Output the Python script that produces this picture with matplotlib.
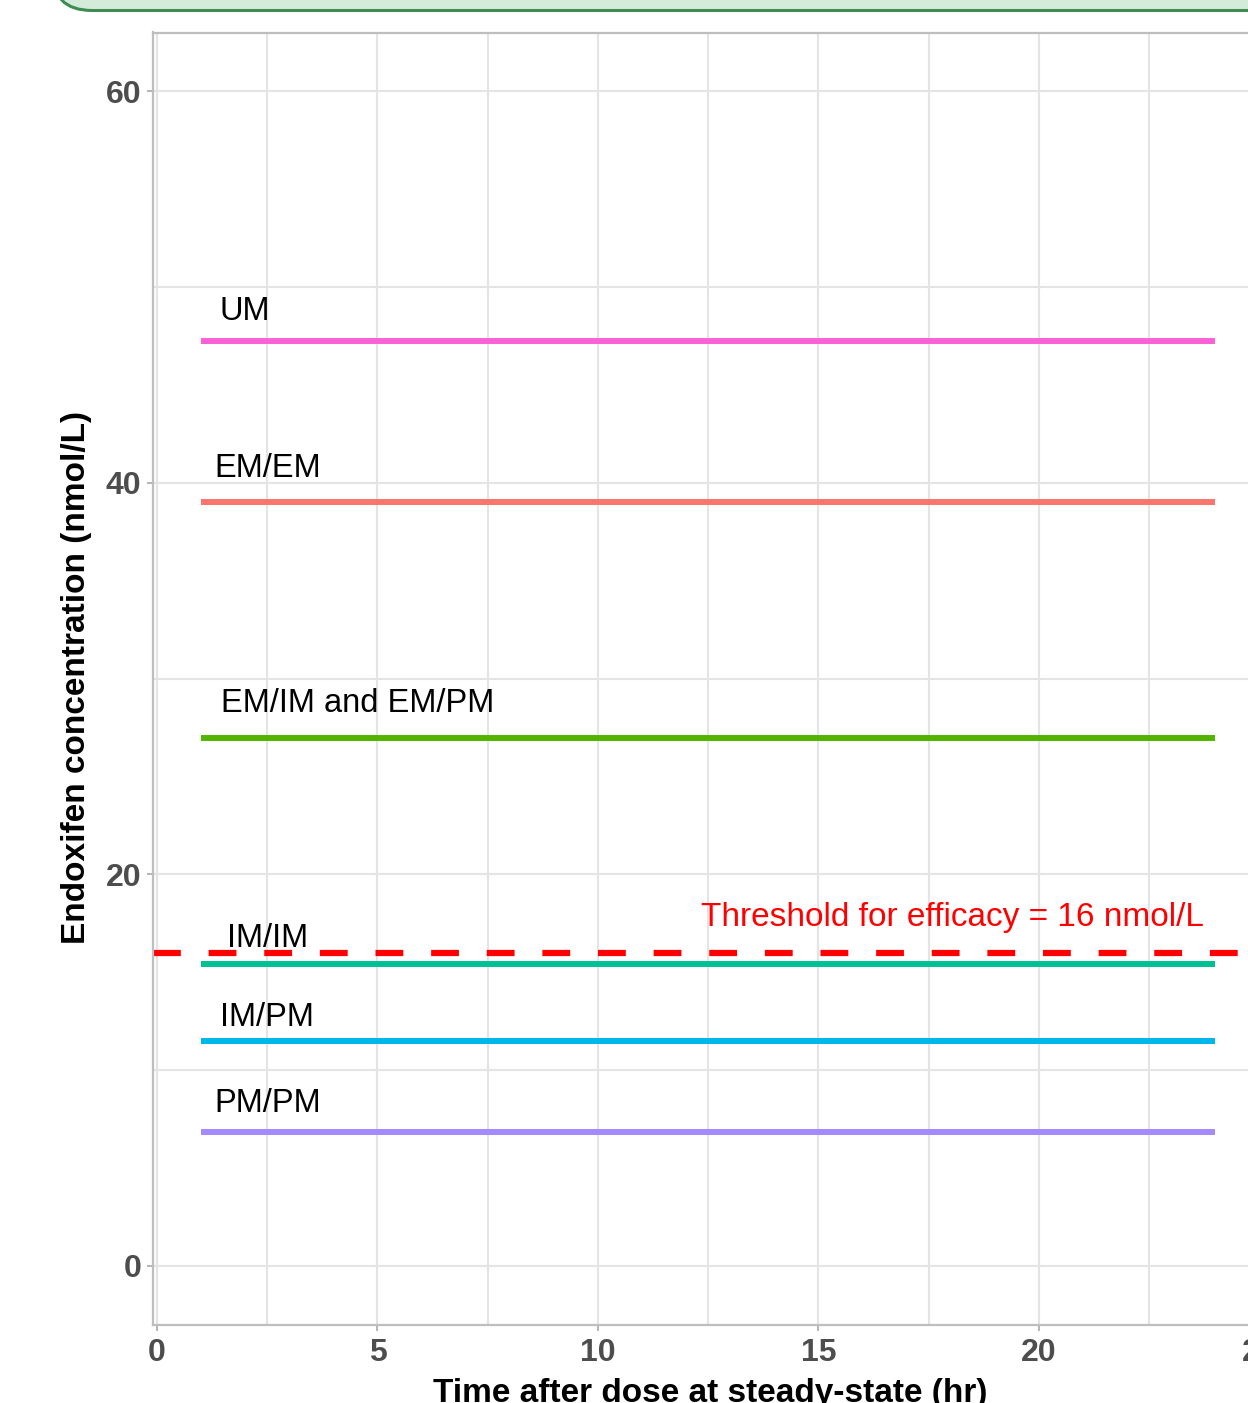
import matplotlib

matplotlib.use("Agg")
import matplotlib.pyplot as plt
from matplotlib.patches import FancyBboxPatch

plt.rcParams["font.family"] = ["Liberation Sans", "DejaVu Sans"]

# ---- datos ----------------------------------------------------------------
genotypes = ["UM", "EM/EM", "EM/IM and EM/PM", "IM/IM", "IM/PM", "PM/PM"]
conc = [47.24, 39.02, 26.97, 15.41, 11.49, 6.83]      # nmol/L
hours = [1, 24]                                        # tramo dibujado
threshold = 16
threshold_label = "Threshold for efficacy = 16 nmol/L"

COLORS = ["#FB61D7", "#F8766D", "#53B400", "#00C094", "#00B6EB", "#A58AFF"]
LABEL_X = [2.0, 2.5, 4.55, 2.5, 2.5, 2.5]
LABEL_Y = [48.3, 40.3, 28.3, 16.3, 12.26, 7.88]        # línea base del texto
GRID = "#E4E4E4"
FRAME = "#BEBEBE"
TICK_TXT = "#4D4D4D"

W, H = 1248, 1403
fig = plt.figure(figsize=(W / 100, H / 100), dpi=100)
fig.patch.set_facecolor("white")

# caja verde recortada arriba
fig.add_artist(FancyBboxPatch(
    (0.52, 13.925), 14.0, 2.0,
    boxstyle="round,pad=0,rounding_size=0.4",
    facecolor="#D5EBDA", edgecolor="#3F8C52", linewidth=2.2,
    transform=fig.dpi_scale_trans, zorder=0))

ax = fig.add_axes([153 / W, (H - 1324.7) / H, 1115.3 / W, 1292.2 / H])
ax.set_xlim(-0.09, 25.2)
ax.set_ylim(-3, 63)

ax.set_xticks([0, 5, 10, 15, 20, 25])
ax.set_xticks([2.5, 7.5, 12.5, 17.5, 22.5], minor=True)
ax.set_yticks([0, 20, 40, 60])
ax.set_yticks([10, 30, 50], minor=True)
ax.grid(True, which="both", color=GRID, linewidth=1.5, zorder=0)
ax.set_axisbelow(True)

for sp in ax.spines.values():
    sp.set_color(FRAME)
    sp.set_linewidth(1.6)

ax.tick_params(which="major", length=4, width=1.3, color="#B0B0B0",
               labelsize=23, labelcolor=TICK_TXT)
ax.tick_params(axis="x", which="major", pad=5.5)
ax.tick_params(axis="y", which="major", pad=4.5)
ax.tick_params(which="minor", length=0)
for lab in ax.get_xticklabels() + ax.get_yticklabels():
    lab.set_fontweight("bold")

# umbral
thr = ax.axhline(threshold, color="#FF0000", linewidth=4.5, zorder=2)
thr.set_dashes((4.45, 4.45))
ax.text(23.75, 17.35, threshold_label, color="#FF0000",
        fontsize=24, ha="right", va="baseline", zorder=4)

# líneas por genotipo
for g, c, col, lx, ly in zip(genotypes, conc, COLORS, LABEL_X, LABEL_Y):
    ax.plot(hours, [c, c], color=col, linewidth=4.3,
            solid_capstyle="butt", zorder=3)
    ax.text(lx, ly, g, fontsize=23.5, color="black",
            ha="center", va="baseline", zorder=4)

ax.set_xlabel("Time after dose at steady-state (hr)", fontsize=24,
              fontweight="bold", va="center")
ax.xaxis.set_label_coords(0.4996, -0.0532)
ax.set_ylabel("Endoxifen concentration (nmol/L)", fontsize=24,
              fontweight="bold", va="center")
ax.yaxis.set_label_coords(-0.0683, 0.501)

fig.savefig("out.png", dpi=100, facecolor="white")
